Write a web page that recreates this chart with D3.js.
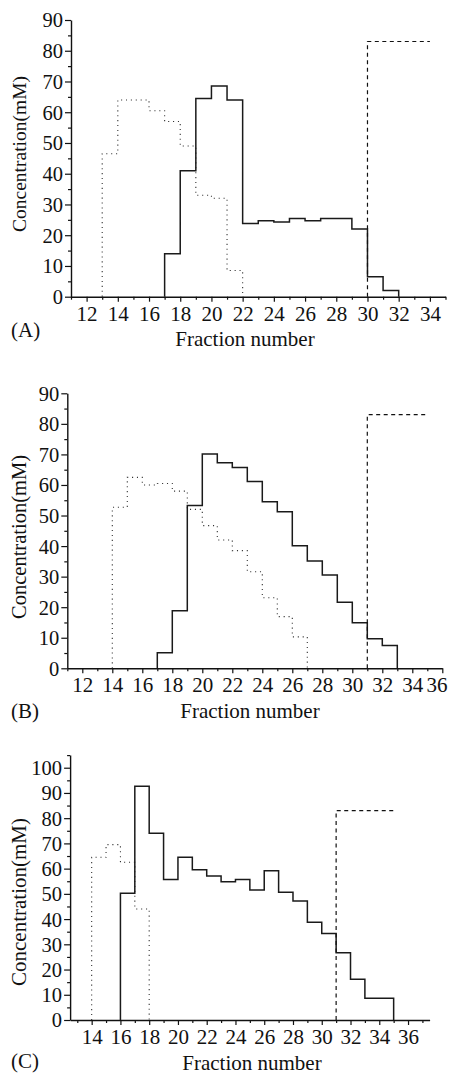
<!DOCTYPE html>
<html>
<head>
<meta charset="utf-8">
<script src="https://cdn.jsdelivr.net/npm/d3@7/dist/d3.min.js"></script>
<style>
body { margin: 0; background: #fff; }
</style>
</head>
<body>
<div id="chart"></div>
<script>
// ---- data (fraction -> concentration, mM) ----
// (A)
var solidA_first = 17;
var solidA = [14, 41, 64.5, 68.5, 64, 23.8, 24.7, 24.3, 25.4, 24.7, 25.4, 25.4, 22, 6.5, 2];
var dottedA_first = 13;
var dottedA = [46.5, 64, 64, 60.5, 57, 49, 33, 32, 8.5];
var dashedA = {at: 30, until: 34, level: 83};

// (B)
var solidB_first = 17;
var solidB = [5.1, 18.8, 53.3, 70.1, 67.3, 65.7, 61.1, 54.5, 51.2, 40.1, 35.1, 30.5, 21.6, 14.9, 9.7, 7.5];
var dottedB_first = 14;
var dottedB = [52.7, 62.5, 60, 60.5, 58, 52, 46.7, 42, 38.5, 31.6, 23.1, 16.9, 10.3];
var dashedB = {at: 31, until: 35, level: 83};

// (C)
var solidC_first = 16;
var solidC = [50.2, 92.7, 74, 55.7, 64.5, 59.6, 57.1, 54.8, 55.7, 51.5, 59.2, 50.6, 47.2, 38.7, 34.3, 26.7, 16.2, 8.6, 8.6];
var dottedC_first = 14;
var dottedC = [64.5, 69.5, 62.5, 44];
var dashedC = {at: 31, until: 35, level: 83};

// tick labels
var xTicksA = [12, 14, 16, 18, 20, 22, 24, 26, 28, 30, 32, 34];
var xTicksB = [12, 14, 16, 18, 20, 22, 24, 26, 28, 30, 32, 34, 36];
var xTicksC = [14, 16, 18, 20, 22, 24, 26, 28, 30, 32, 34, 36];
var yTicksAB = [0, 10, 20, 30, 40, 50, 60, 70, 80, 90];
var yTicksC = [0, 10, 20, 30, 40, 50, 60, 70, 80, 90, 100];

var W = 449, H = 1078;
var FONT = "'Liberation Serif', 'DejaVu Serif', 'Times New Roman', serif";

var svg = d3.select("#chart").append("svg")
    .attr("width", W)
    .attr("height", H)
    .attr("font-family", FONT);

svg.append("rect").attr("width", W).attr("height", H).attr("fill", "#fff");

// builds the outline of a histogram-like step trace
function stepPoints(first, vals) {
    var pts = [[first, 0]];
    vals.forEach(function(v, i) {
        pts.push([first + i, v]);
    });
    var last = first + vals.length;
    pts.push([last, vals[vals.length - 1]]);
    pts.push([last, 0]);
    return pts;
}

function drawPanel(p) {
    var x = d3.scaleLinear().domain(p.xDomain).range(p.xRange);
    var y = d3.scaleLinear().domain(p.yDomain).range(p.yRange);
    var g = svg.append("g");
    var y0 = p.yRange[0];

    // minor ticks first, no labels
    var xMinor = d3.range(Math.ceil(p.xDomain[0]), p.xDomain[1] + 0.01, 1)
        .filter(function(d) { return p.xTicks.indexOf(d) < 0; });
    g.append("g")
        .attr("class", "minor")
        .attr("transform", "translate(0," + y0 + ")")
        .call(d3.axisBottom(x).tickValues(xMinor).tickSize(3).tickSizeOuter(0).tickFormat(""));

    var yMinor = d3.range(5, p.yDomain[1] + 0.01, 10);
    g.append("g")
        .attr("class", "minor")
        .attr("transform", "translate(" + p.xRange[0] + ",0)")
        .call(d3.axisLeft(y).tickValues(yMinor).tickSize(3).tickSizeOuter(0).tickFormat(""));

    var gx = g.append("g")
        .attr("transform", "translate(0," + y0 + ")")
        .call(d3.axisBottom(x).tickValues(p.xTicks).tickSize(5).tickSizeOuter(0).tickPadding(4).tickFormat(d3.format("d")));

    var gy = g.append("g")
        .attr("transform", "translate(" + p.xRange[0] + ",0)")
        .call(d3.axisLeft(y).tickValues(p.yTicks).tickSize(6).tickSizeOuter(0).tickPadding(2).tickFormat(d3.format("d")));

    g.selectAll("g").attr("font-family", FONT);
    gx.selectAll("text").attr("fill", "#111").style("font-size", "21px");
    gy.selectAll("text").attr("fill", "#111").style("font-size", "20.5px").attr("dy", "0.34em");

    // pull the last x label back inside the page if it runs over the edge
    gx.selectAll(".tick text").each(function(d) {
        var b = this.getBBox();
        var right = x(d) + b.x + b.width;
        if (right > W - 2) d3.select(this).attr("dx", (W - 2 - right) + "px");
    });

    g.selectAll(".domain").attr("stroke", "#111").attr("stroke-width", 1.4);
    g.selectAll(".tick line").attr("stroke", "#111").attr("stroke-width", 1.2);
    g.selectAll(".minor .domain").remove();

    var line = d3.line()
        .x(function(d) { return x(d[0]); })
        .y(function(d) { return y(d[1]); });

    // dotted trace
    g.append("path")
        .datum(stepPoints(p.dottedFirst, p.dotted))
        .attr("d", line.curve(d3.curveStepAfter))
        .attr("fill", "none")
        .attr("stroke", "#333")
        .attr("stroke-width", 1.1)
        .attr("stroke-dasharray", "1.1,3.8");

    // solid trace
    g.append("path")
        .datum(stepPoints(p.solidFirst, p.solid))
        .attr("d", line.curve(d3.curveStepAfter))
        .attr("fill", "none")
        .attr("stroke", "#1a1a1a")
        .attr("stroke-width", 1.5);

    // dashed gradient line
    var dpts = [[p.dashed.at, 0], [p.dashed.at, p.dashed.level], [p.dashed.until, p.dashed.level]];
    g.append("path")
        .datum(dpts)
        .attr("d", line.curve(d3.curveLinear))
        .attr("fill", "none")
        .attr("stroke", "#111")
        .attr("stroke-width", 1.2)
        .attr("stroke-dasharray", "4,3.5");

    // labels
    g.append("text")
        .attr("transform", "translate(" + p.yLabelX + "," + p.yLabelY + ") rotate(-90)")
        .attr("text-anchor", "middle")
        .attr("fill", "#111")
        .style("font-size", p.yLabelSize + "px")
        .text("Concentration(mM)");

    g.append("text")
        .attr("x", p.titleX)
        .attr("y", y0 + p.titleDy)
        .attr("text-anchor", "middle")
        .attr("fill", "#111")
        .style("font-size", "21px")
        .text("Fraction number");

    g.append("text")
        .attr("x", 11)
        .attr("y", y0 + p.letterDy)
        .attr("fill", "#111")
        .style("font-size", "21px")
        .text(p.letter);
}

drawPanel({
    xDomain: [11, 35], xRange: [71, 445.5],
    yDomain: [0, 90], yRange: [296.7, 20],
    xTicks: xTicksA, yTicks: yTicksAB,
    solidFirst: solidA_first, solid: solidA,
    dottedFirst: dottedA_first, dotted: dottedA,
    dashed: dashedA,
    yLabelX: 26, yLabelY: 154, yLabelSize: 19.5,
    titleX: 245, titleDy: 49, letterDy: 40, letter: "(A)"
});

drawPanel({
    xDomain: [11, 36], xRange: [67.3, 442.3],
    yDomain: [0, 90], yRange: [668.3, 393.3],
    xTicks: xTicksB, yTicks: yTicksAB,
    solidFirst: solidB_first, solid: solidB,
    dottedFirst: dottedB_first, dotted: dottedB,
    dashed: dashedB,
    yLabelX: 26, yLabelY: 537, yLabelSize: 20.5,
    titleX: 250, titleDy: 50, letterDy: 50, letter: "(B)"
});

drawPanel({
    xDomain: [12.5, 37.5], xRange: [70.1, 429.6],
    yDomain: [0, 105], yRange: [1020, 755.1],
    xTicks: xTicksC, yTicks: yTicksC,
    solidFirst: solidC_first, solid: solidC,
    dottedFirst: dottedC_first, dotted: dottedC,
    dashed: dashedC,
    yLabelX: 26, yLabelY: 902, yLabelSize: 21,
    titleX: 252, titleDy: 50, letterDy: 48, letter: "(C)"
});
</script>
</body>
</html>
